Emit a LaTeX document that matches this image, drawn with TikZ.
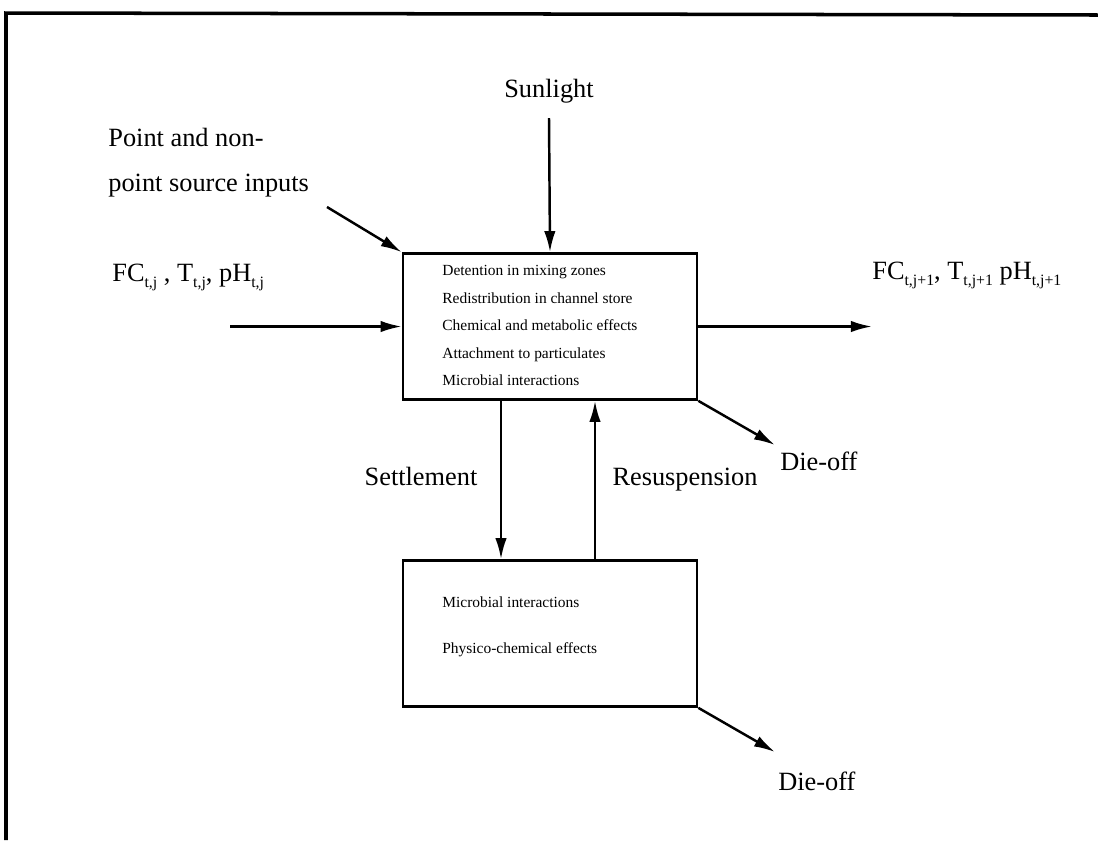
\documentclass[tikz,border=0pt]{standalone}
\usepackage{fontspec}
\setmainfont{Liberation Serif}
\usetikzlibrary{arrows.meta}

% small lowered index, as the figure prints it
\newcommand{\lowidx}[1]{\raisebox{-0.55ex}{\fontsize{9}{10}\selectfont #1}}

\tikzset{
  flowbox/.style={draw, line width=1.5pt, minimum width=5.88cm, minimum height=2.92cm, inner sep=0pt},
  biglabel/.style={font=\fontsize{15}{18}\selectfont, inner sep=0pt},
  boxline/.style={font=\fontsize{8.8}{10}\selectfont, anchor=base west, inner sep=0pt},
  flow/.style={line width=1.4pt, -{Latex[length=12pt,width=6.5pt]}}
}

\begin{document}
\begin{tikzpicture}[x=0.02cm,y=-0.02cm]

    \useasboundingbox (0,0) rectangle (1098,840);

    % frame
    \draw[line width=2pt] (6,840) -- (6,13) -- (1098,15);

    % the two compartments
    \node[flowbox] (water) at (550,326.5) {};
    \node[flowbox] (bed) at (550,633.5) {};

    \foreach \txt/\y in {Detention in mixing zones/275,
                         Redistribution in channel store/303,
                         Chemical and metabolic effects/330,
                         Attachment to particulates/358,
                         Microbial interactions/385}
        \node[boxline] at (442,\y) {\txt};

    \node[boxline] (bedmicro) at (442,607) {Microbial interactions};
    \node[boxline] (bedphys) at (442,653) {Physico-chemical effects};

    % labels
    \node[biglabel, anchor=base] (sun) at (549,97) {Sunlight};
    \node[biglabel, anchor=base west] (ptsrc) at (108,146) {Point and non-};
    \node[biglabel, anchor=base west] (ptsrcb) at (108,191) {point source inputs};
    \node[biglabel, anchor=base west] (fcin) at (112,281)
        {FC\lowidx{t,j} , T\lowidx{t,j}, pH\lowidx{t,j}};
    \node[biglabel, anchor=base west] (fcout) at (872,279)
        {FC\lowidx{t,j+1}, T\lowidx{t,j+1} pH\lowidx{t,j+1}};
    \node[biglabel, anchor=base] (settle) at (421,485) {Settlement};
    \node[biglabel, anchor=base] (resusp) at (685,485) {Resuspension};
    \node[biglabel, anchor=base west] (dieup) at (780,470) {Die-off};
    \node[biglabel, anchor=base west] (dielow) at (778,790) {Die-off};

    % free ends of the connectors
    \coordinate (sunstart) at (549,118);
    \coordinate (ptstart) at (327,207);
    \coordinate (instart) at (230,326.5);
    \coordinate (outend) at (872,326.5);
    \coordinate (dieupend) at (775,445);
    \coordinate (dielowend) at (775,752);
    \coordinate (setx) at (501,0);
    \coordinate (resx) at (595,0);

    % connectors
    \draw[flow] (sunstart) -- (water.north);
    \draw[flow] (ptstart) -- (water.north west);
    \draw[flow] (instart) -- (water.west);
    \draw[flow] (water.east) -- (outend);
    \draw[flow] (water.south -| setx) -- (bed.north -| setx);
    \draw[flow] (bed.north -| resx) -- (water.south -| resx);
    \draw[flow] (water.south east) -- (dieupend);
    \draw[flow] (bed.south east) -- (dielowend);

\end{tikzpicture}
\end{document}
